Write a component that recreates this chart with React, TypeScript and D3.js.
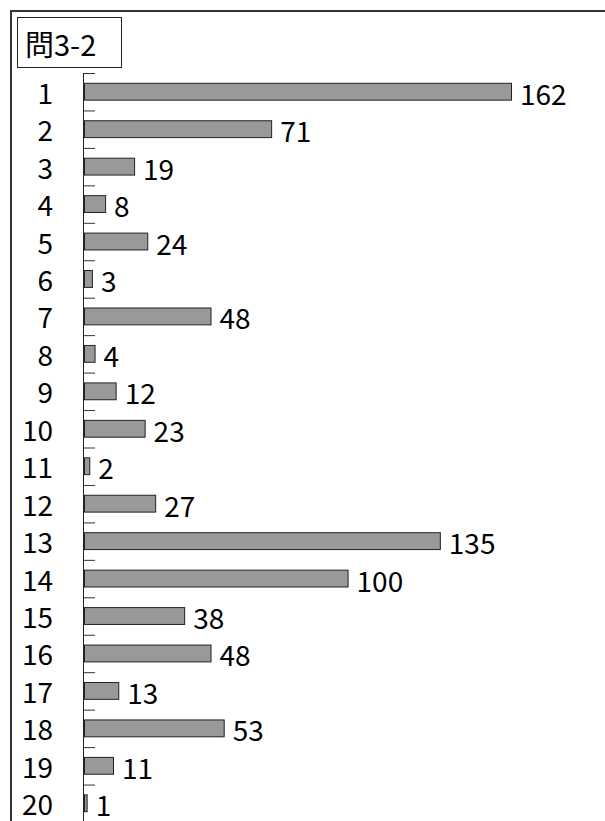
import * as d3 from 'd3';
import * as React from 'react';

const categories = ['1', '2', '3', '4', '5', '6', '7', '8', '9', '10', '11', '12', '13', '14', '15', '16', '17', '18', '19', '20'];
const counts = [162, 71, 19, 8, 24, 3, 48, 4, 12, 23, 2, 27, 135, 100, 38, 48, 13, 53, 11, 1];
const title = '問3-2';

const W = 605;
const H = 821;
const FONT = '"Noto Sans CJK JP", "Noto Sans", sans-serif';

export default function App() {
  const axisX = 84;
  const top = 73;
  const step = 37.45;

  const y = React.useMemo(
    () =>
      d3
        .scaleBand<string>()
        .domain(categories)
        .range([top, top + step * categories.length])
        .paddingInner(0.55)
        .paddingOuter(0.275),
    [],
  );

  const x = React.useMemo(
    () => d3.scaleLinear().domain([0, d3.max(counts) ?? 0]).range([axisX, 511]),
    [],
  );

  const ticks = d3.range(categories.length + 1).map((i) => top + i * y.step());

  return (
    <svg
      width={W}
      height={H}
      style={{ position: 'absolute', left: 0, top: 0, background: '#fff' }}
      fontFamily={FONT}
    >
      {/* outer frame, runs off the right and bottom edges */}
      <rect x={11} y={11} width={W + 20} height={H + 20} fill="none" stroke="#333" strokeWidth={2} />

      <rect x={17.5} y={17.5} width={104} height={50} fill="#fff" stroke="#222" strokeWidth={1} />
      <text x={25} y={43} fontSize={29} dominantBaseline="central" fill="#000">
        {title}
      </text>

      <line x1={axisX - 0.5} x2={axisX - 0.5} y1={top} y2={H} stroke="#222" strokeWidth={1} />
      {ticks.map((t, i) => (
        <line key={i} x1={axisX} x2={95} y1={t + 0.5} y2={t + 0.5} stroke="#333" strokeWidth={1} />
      ))}

      {categories.map((c, i) => {
        const by = y(c) ?? 0;
        const cy = by + y.bandwidth() / 2;
        const v = counts[i];
        return (
          <g key={c} fontSize={28} fill="#000">
            <rect
              x={axisX + 0.5}
              y={by}
              width={x(v) - axisX}
              height={y.bandwidth()}
              fill="#999"
              stroke="#222"
              strokeWidth={1}
            />
            <text x={53} y={cy} textAnchor="end" dominantBaseline="central">
              {c}
            </text>
            <text x={x(v) + 9} y={cy + 1} dominantBaseline="central">
              {v}
            </text>
          </g>
        );
      })}
    </svg>
  );
}
